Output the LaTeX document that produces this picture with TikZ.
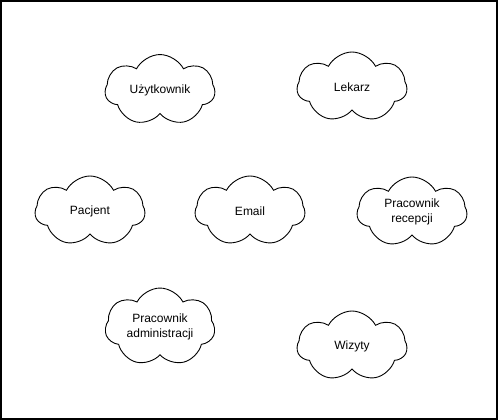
\documentclass[tikz,border=0pt]{standalone}
\usepackage{fontspec}
\setmainfont{Liberation Sans}
\usetikzlibrary{positioning, shapes.symbols}
\tikzstyle{entity} = [draw, cloud, cloud puffs=7, cloud puff arc=125, aspect=1.6, minimum width=110pt, minimum height=70pt, inner sep=0pt, align=center, line width=0.9pt, font=\fontsize{12}{15}\selectfont]
\tikzstyle{frame} = [draw, line width=1.5pt]

\begin{document}
\begin{tikzpicture}[x=1pt, y=-1pt, node distance=10pt, on grid]
    \useasboundingbox (0,0) rectangle (499,420);
    \draw [frame] (1,1) rectangle (497,419);

    % Place the clouds
    \node [entity] (user) at (160,90) {Użytkownik};
    \node [entity, right=192pt of user, yshift=3pt] (doctor) {Lekarz};
    \node [entity] (patient) at (90,211) {Pacjent};
    \node [entity, right=160pt of patient] (email) {Email};
    \node [entity] (reception) at (412,212) {Pracownik\\recepcji};
    \node [entity, below=237pt of user] (admin) {Pracownik\\administracji};
    \node [entity, below=259pt of doctor] (visits) {Wizyty};
\end{tikzpicture}
\end{document}
